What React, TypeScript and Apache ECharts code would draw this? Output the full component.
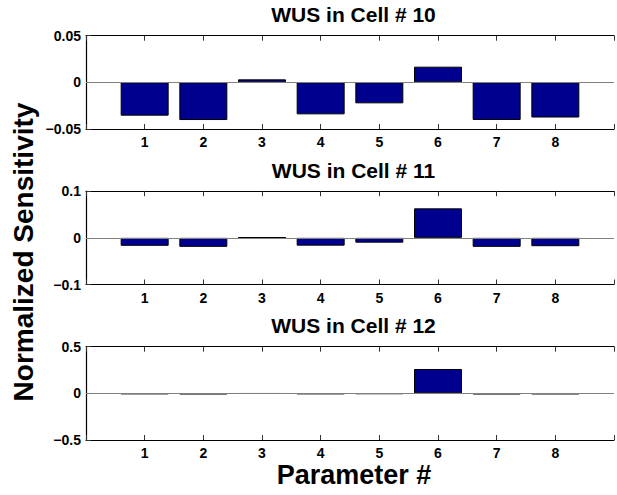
import React, { useEffect, useRef } from "react";
import * as echarts from "echarts";

const params = [1, 2, 3, 4, 5, 6, 7, 8];
const cell10 = [-0.0357, -0.0404, 0.0032, -0.0343, -0.0225, 0.0168, -0.0403, -0.0377];
const cell11 = [-0.0171, -0.0193, 0.001, -0.0167, -0.0103, 0.0632, -0.0193, -0.0179];
const cell12 = [-0.008, -0.01, -0.003, -0.008, -0.006, 0.261, -0.01, -0.009];
const titles = ["WUS in Cell # 10", "WUS in Cell # 11", "WUS in Cell # 12"];
const yLimits = [0.05, 0.1, 0.5];
const xLabel = "Parameter #";
const yLabel = "Normalized Sensitivity";

const FONT = "Liberation Sans, Arial, Helvetica, sans-serif";

export default function App() {
  const ref = useRef<HTMLDivElement>(null);
  useEffect(() => {
    document.body.style.margin = "0";
    if (!ref.current) return;
    const chart = echarts.init(ref.current, null, { renderer: "svg" });
    const all = [cell10, cell11, cell12];
    const tops = [35.7, 191.2, 346.7];
    const gridH = 93.3;
    const gridLeft = 86;
    const gridW = 535.5;

    const grid: any[] = [];
    const xAxis: any[] = [];
    const yAxis: any[] = [];
    const series: any[] = [];
    const graphic: any[] = [];

    all.forEach((vals, i) => {
      grid.push({ left: gridLeft, top: tops[i], width: gridW, height: gridH, containLabel: false });
      const tickStyle = { show: true, inside: true, length: 5, lineStyle: { color: "#333", width: 1 } };
      xAxis.push({
        type: "value",
        gridIndex: i,
        min: 0,
        max: 9,
        interval: 1,
        position: "bottom",
        axisLine: { show: true, onZero: false, lineStyle: { color: "#000", width: 1.2 } },
        axisTick: tickStyle,
        splitLine: { show: false },
        axisLabel: {
          margin: 6,
          color: "#000",
          fontFamily: FONT,
          fontWeight: "bold",
          fontSize: 14,
          formatter: (v: number) => (v >= 1 && v <= 8 ? String(v) : ""),
        },
      });
      xAxis.push({
        type: "value",
        gridIndex: i,
        min: 0,
        max: 9,
        interval: 1,
        position: "top",
        axisLine: { show: true, onZero: false, lineStyle: { color: "#000", width: 1.2 } },
        axisTick: tickStyle,
        splitLine: { show: false },
        axisLabel: { show: false },
      });
      const lim = yLimits[i];
      yAxis.push({
        type: "value",
        gridIndex: i,
        min: -lim,
        max: lim,
        interval: lim,
        axisLine: { show: true, lineStyle: { color: "#000", width: 1.2 } },
        axisTick: tickStyle,
        splitLine: { show: false },
        axisLabel: {
          margin: 5,
          color: "#000",
          fontFamily: FONT,
          fontWeight: "bold",
          fontSize: 14,
          formatter: (v: number) => {
            const r = parseFloat(v.toFixed(4));
            if (r === 0) return "0";
            return r < 0 ? "\u2212" + String(-r) : String(r);
          },
        },
      });
      series.push({
        type: "bar",
        xAxisIndex: 2 * i,
        yAxisIndex: i,
        barWidth: 48,
        data: params.map((p, k) => [p, vals[k]]),
        itemStyle: { color: "#00008f", borderColor: "#000", borderWidth: 1 },
        markLine: {
          silent: true,
          symbol: ["none", "none"],
          label: { show: false },
          lineStyle: { color: "#808080", width: 1.2, type: "solid" },
          data: [{ yAxis: 0 }],
        },
      });
      graphic.push({
        type: "text",
        x: gridLeft + 267.5,
        y: tops[i] - 21,
        style: {
          text: titles[i],
          font: `bold 21px ${FONT}`,
          fill: "#000",
          align: "center",
          verticalAlign: "middle",
          textAlign: "center",
          textVerticalAlign: "middle",
        },
      });
    });

    graphic.push({
      type: "text",
      x: 354,
      y: 475,
      style: {
        text: xLabel,
        font: `bold 27px ${FONT}`,
        fill: "#000",
        align: "center",
        verticalAlign: "middle",
        textAlign: "center",
        textVerticalAlign: "middle",
      },
    });
    graphic.push({
      type: "text",
      x: 23,
      y: 252,
      rotation: Math.PI / 2,
      style: {
        text: yLabel,
        font: `bold 28px ${FONT}`,
        fill: "#000",
        align: "center",
        verticalAlign: "middle",
        textAlign: "center",
        textVerticalAlign: "middle",
      },
    });

    chart.setOption({
      animation: false,
      backgroundColor: "#fff",
      grid,
      xAxis,
      yAxis,
      series,
      graphic,
    });
    return () => chart.dispose();
  }, []);
  return <div ref={ref} style={{ width: 617, height: 495 }} />;
}
